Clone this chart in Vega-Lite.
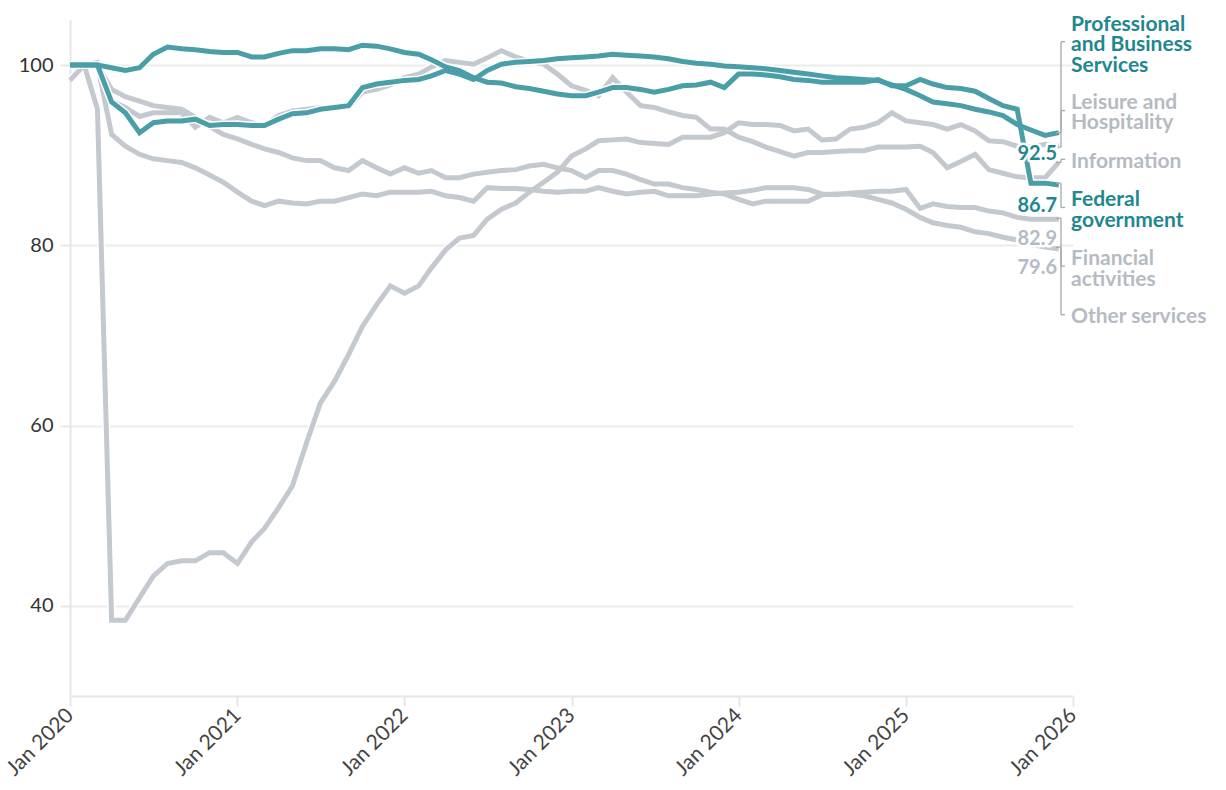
{
  "$schema": "https://vega.github.io/schema/vega-lite/v6.json",
  "width": 1003,
  "height": 676,
  "autosize": {"type": "none"},
  "padding": {"left": 70, "top": 20, "right": 153, "bottom": 94},
  "config": {"view": {"stroke": null}, "font": "Lato"},
  "datasets": {
    "series": [
      {"date": "2020-01-01", "Professional and Business Services": 100, "Federal government": 100, "Leisure and Hospitality": 100, "Information": 98.3, "Financial activities": 100, "Other services": 100},
      {"date": "2020-02-01", "Professional and Business Services": 100, "Federal government": 100, "Leisure and Hospitality": 100, "Information": 100, "Financial activities": 100, "Other services": 100},
      {"date": "2020-03-01", "Professional and Business Services": 100, "Federal government": 100, "Leisure and Hospitality": 95.1, "Information": 100.3, "Financial activities": 100, "Other services": 100},
      {"date": "2020-04-01", "Professional and Business Services": 95.9, "Federal government": 99.7, "Leisure and Hospitality": 38.4, "Information": 96.0, "Financial activities": 92.3, "Other services": 97.3},
      {"date": "2020-05-01", "Professional and Business Services": 94.7, "Federal government": 99.4, "Leisure and Hospitality": 38.4, "Information": 95.3, "Financial activities": 91.0, "Other services": 96.5},
      {"date": "2020-06-01", "Professional and Business Services": 92.5, "Federal government": 99.7, "Leisure and Hospitality": 40.9, "Information": 94.3, "Financial activities": 90.1, "Other services": 96.0},
      {"date": "2020-07-01", "Professional and Business Services": 93.6, "Federal government": 101.2, "Leisure and Hospitality": 43.3, "Information": 94.7, "Financial activities": 89.6, "Other services": 95.5},
      {"date": "2020-08-01", "Professional and Business Services": 93.8, "Federal government": 102.0, "Leisure and Hospitality": 44.7, "Information": 94.7, "Financial activities": 89.4, "Other services": 95.3},
      {"date": "2020-09-01", "Professional and Business Services": 93.8, "Federal government": 101.8, "Leisure and Hospitality": 45.0, "Information": 94.7, "Financial activities": 89.2, "Other services": 95.1},
      {"date": "2020-10-01", "Professional and Business Services": 94.0, "Federal government": 101.7, "Leisure and Hospitality": 45.0, "Information": 93.1, "Financial activities": 88.6, "Other services": 94.2},
      {"date": "2020-11-01", "Professional and Business Services": 93.3, "Federal government": 101.5, "Leisure and Hospitality": 45.9, "Information": 94.2, "Financial activities": 87.8, "Other services": 93.2},
      {"date": "2020-12-01", "Professional and Business Services": 93.4, "Federal government": 101.4, "Leisure and Hospitality": 45.9, "Information": 93.6, "Financial activities": 87.0, "Other services": 92.3},
      {"date": "2021-01-01", "Professional and Business Services": 93.4, "Federal government": 101.4, "Leisure and Hospitality": 44.7, "Information": 94.2, "Financial activities": 85.9, "Other services": 91.8},
      {"date": "2021-02-01", "Professional and Business Services": 93.3, "Federal government": 100.9, "Leisure and Hospitality": 47.1, "Information": 93.6, "Financial activities": 84.9, "Other services": 91.2},
      {"date": "2021-03-01", "Professional and Business Services": 93.3, "Federal government": 100.9, "Leisure and Hospitality": 48.6, "Information": 93.3, "Financial activities": 84.4, "Other services": 90.7},
      {"date": "2021-04-01", "Professional and Business Services": 94.0, "Federal government": 101.3, "Leisure and Hospitality": 50.9, "Information": 94.4, "Financial activities": 84.9, "Other services": 90.3},
      {"date": "2021-05-01", "Professional and Business Services": 94.6, "Federal government": 101.6, "Leisure and Hospitality": 53.3, "Information": 94.9, "Financial activities": 84.7, "Other services": 89.7},
      {"date": "2021-06-01", "Professional and Business Services": 94.7, "Federal government": 101.6, "Leisure and Hospitality": 58.1, "Information": 95.1, "Financial activities": 84.6, "Other services": 89.4},
      {"date": "2021-07-01", "Professional and Business Services": 95.1, "Federal government": 101.8, "Leisure and Hospitality": 62.5, "Information": 95.3, "Financial activities": 84.9, "Other services": 89.4},
      {"date": "2021-08-01", "Professional and Business Services": 95.3, "Federal government": 101.8, "Leisure and Hospitality": 64.9, "Information": 95.3, "Financial activities": 84.9, "Other services": 88.6},
      {"date": "2021-09-01", "Professional and Business Services": 95.5, "Federal government": 101.7, "Leisure and Hospitality": 67.9, "Information": 95.3, "Financial activities": 85.3, "Other services": 88.3},
      {"date": "2021-10-01", "Professional and Business Services": 97.5, "Federal government": 102.2, "Leisure and Hospitality": 71.0, "Information": 97.0, "Financial activities": 85.7, "Other services": 89.4},
      {"date": "2021-11-01", "Professional and Business Services": 97.9, "Federal government": 102.1, "Leisure and Hospitality": 73.4, "Information": 97.3, "Financial activities": 85.5, "Other services": 88.6},
      {"date": "2021-12-01", "Professional and Business Services": 98.1, "Federal government": 101.8, "Leisure and Hospitality": 75.5, "Information": 97.8, "Financial activities": 85.9, "Other services": 87.9},
      {"date": "2022-01-01", "Professional and Business Services": 98.3, "Federal government": 101.4, "Leisure and Hospitality": 74.7, "Information": 98.6, "Financial activities": 85.9, "Other services": 88.6},
      {"date": "2022-02-01", "Professional and Business Services": 98.4, "Federal government": 101.2, "Leisure and Hospitality": 75.5, "Information": 99.0, "Financial activities": 85.9, "Other services": 88.0},
      {"date": "2022-03-01", "Professional and Business Services": 98.8, "Federal government": 100.6, "Leisure and Hospitality": 77.5, "Information": 99.8, "Financial activities": 86.0, "Other services": 88.3},
      {"date": "2022-04-01", "Professional and Business Services": 99.4, "Federal government": 99.8, "Leisure and Hospitality": 79.5, "Information": 100.5, "Financial activities": 85.5, "Other services": 87.5},
      {"date": "2022-05-01", "Professional and Business Services": 99.0, "Federal government": 99.4, "Leisure and Hospitality": 80.8, "Information": 100.3, "Financial activities": 85.3, "Other services": 87.5},
      {"date": "2022-06-01", "Professional and Business Services": 98.4, "Federal government": 98.6, "Leisure and Hospitality": 81.1, "Information": 100.1, "Financial activities": 84.9, "Other services": 87.9},
      {"date": "2022-07-01", "Professional and Business Services": 99.4, "Federal government": 98.1, "Leisure and Hospitality": 82.9, "Information": 100.8, "Financial activities": 86.4, "Other services": 88.1},
      {"date": "2022-08-01", "Professional and Business Services": 100.1, "Federal government": 98.0, "Leisure and Hospitality": 84.0, "Information": 101.6, "Financial activities": 86.3, "Other services": 88.3},
      {"date": "2022-09-01", "Professional and Business Services": 100.3, "Federal government": 97.6, "Leisure and Hospitality": 84.7, "Information": 100.9, "Financial activities": 86.3, "Other services": 88.4},
      {"date": "2022-10-01", "Professional and Business Services": 100.4, "Federal government": 97.4, "Leisure and Hospitality": 85.9, "Information": 100.4, "Financial activities": 86.2, "Other services": 88.8},
      {"date": "2022-11-01", "Professional and Business Services": 100.5, "Federal government": 97.1, "Leisure and Hospitality": 87.0, "Information": 100.1, "Financial activities": 86.0, "Other services": 89.0},
      {"date": "2022-12-01", "Professional and Business Services": 100.7, "Federal government": 96.8, "Leisure and Hospitality": 88.1, "Information": 99.0, "Financial activities": 85.9, "Other services": 88.6},
      {"date": "2023-01-01", "Professional and Business Services": 100.8, "Federal government": 96.6, "Leisure and Hospitality": 89.9, "Information": 97.7, "Financial activities": 86.0, "Other services": 88.3},
      {"date": "2023-02-01", "Professional and Business Services": 100.9, "Federal government": 96.6, "Leisure and Hospitality": 90.7, "Information": 97.2, "Financial activities": 86.0, "Other services": 87.5},
      {"date": "2023-03-01", "Professional and Business Services": 101.0, "Federal government": 97.0, "Leisure and Hospitality": 91.6, "Information": 96.6, "Financial activities": 86.4, "Other services": 88.3},
      {"date": "2023-04-01", "Professional and Business Services": 101.2, "Federal government": 97.5, "Leisure and Hospitality": 91.7, "Information": 98.6, "Financial activities": 86.0, "Other services": 88.3},
      {"date": "2023-05-01", "Professional and Business Services": 101.1, "Federal government": 97.5, "Leisure and Hospitality": 91.8, "Information": 97.0, "Financial activities": 85.7, "Other services": 87.9},
      {"date": "2023-06-01", "Professional and Business Services": 101.0, "Federal government": 97.3, "Leisure and Hospitality": 91.4, "Information": 95.5, "Financial activities": 85.9, "Other services": 87.3},
      {"date": "2023-07-01", "Professional and Business Services": 100.9, "Federal government": 97.0, "Leisure and Hospitality": 91.3, "Information": 95.3, "Financial activities": 86.0, "Other services": 86.8},
      {"date": "2023-08-01", "Professional and Business Services": 100.7, "Federal government": 97.3, "Leisure and Hospitality": 91.2, "Information": 94.8, "Financial activities": 85.5, "Other services": 86.8},
      {"date": "2023-09-01", "Professional and Business Services": 100.4, "Federal government": 97.7, "Leisure and Hospitality": 92.0, "Information": 94.4, "Financial activities": 85.5, "Other services": 86.4},
      {"date": "2023-10-01", "Professional and Business Services": 100.2, "Federal government": 97.8, "Leisure and Hospitality": 92.0, "Information": 94.2, "Financial activities": 85.5, "Other services": 86.2},
      {"date": "2023-11-01", "Professional and Business Services": 100.1, "Federal government": 98.1, "Leisure and Hospitality": 92.0, "Information": 92.9, "Financial activities": 85.7, "Other services": 85.9},
      {"date": "2023-12-01", "Professional and Business Services": 99.9, "Federal government": 97.5, "Leisure and Hospitality": 92.5, "Information": 92.9, "Financial activities": 85.8, "Other services": 85.7},
      {"date": "2024-01-01", "Professional and Business Services": 99.8, "Federal government": 99.0, "Leisure and Hospitality": 93.6, "Information": 92.0, "Financial activities": 85.9, "Other services": 85.1},
      {"date": "2024-02-01", "Professional and Business Services": 99.7, "Federal government": 99.0, "Leisure and Hospitality": 93.4, "Information": 91.5, "Financial activities": 86.1, "Other services": 84.6},
      {"date": "2024-03-01", "Professional and Business Services": 99.6, "Federal government": 98.9, "Leisure and Hospitality": 93.4, "Information": 90.9, "Financial activities": 86.4, "Other services": 84.9},
      {"date": "2024-04-01", "Professional and Business Services": 99.4, "Federal government": 98.7, "Leisure and Hospitality": 93.3, "Information": 90.4, "Financial activities": 86.4, "Other services": 84.9},
      {"date": "2024-05-01", "Professional and Business Services": 99.2, "Federal government": 98.4, "Leisure and Hospitality": 92.7, "Information": 89.9, "Financial activities": 86.4, "Other services": 84.9},
      {"date": "2024-06-01", "Professional and Business Services": 99.0, "Federal government": 98.3, "Leisure and Hospitality": 92.9, "Information": 90.3, "Financial activities": 86.2, "Other services": 84.9},
      {"date": "2024-07-01", "Professional and Business Services": 98.8, "Federal government": 98.1, "Leisure and Hospitality": 91.7, "Information": 90.3, "Financial activities": 85.7, "Other services": 85.6},
      {"date": "2024-08-01", "Professional and Business Services": 98.6, "Federal government": 98.1, "Leisure and Hospitality": 91.8, "Information": 90.4, "Financial activities": 85.6, "Other services": 85.7},
      {"date": "2024-09-01", "Professional and Business Services": 98.5, "Federal government": 98.1, "Leisure and Hospitality": 92.9, "Information": 90.5, "Financial activities": 85.8, "Other services": 85.7},
      {"date": "2024-10-01", "Professional and Business Services": 98.4, "Federal government": 98.1, "Leisure and Hospitality": 93.1, "Information": 90.5, "Financial activities": 85.9, "Other services": 85.5},
      {"date": "2024-11-01", "Professional and Business Services": 98.3, "Federal government": 98.4, "Leisure and Hospitality": 93.6, "Information": 90.9, "Financial activities": 86.0, "Other services": 85.1},
      {"date": "2024-12-01", "Professional and Business Services": 97.8, "Federal government": 97.7, "Leisure and Hospitality": 94.7, "Information": 90.9, "Financial activities": 86.0, "Other services": 84.7},
      {"date": "2025-01-01", "Professional and Business Services": 97.3, "Federal government": 97.7, "Leisure and Hospitality": 93.8, "Information": 90.9, "Financial activities": 86.2, "Other services": 84.0},
      {"date": "2025-02-01", "Professional and Business Services": 96.6, "Federal government": 98.4, "Leisure and Hospitality": 93.6, "Information": 91.0, "Financial activities": 84.1, "Other services": 83.1},
      {"date": "2025-03-01", "Professional and Business Services": 95.9, "Federal government": 97.9, "Leisure and Hospitality": 93.4, "Information": 90.3, "Financial activities": 84.6, "Other services": 82.5},
      {"date": "2025-04-01", "Professional and Business Services": 95.7, "Federal government": 97.5, "Leisure and Hospitality": 92.9, "Information": 88.6, "Financial activities": 84.3, "Other services": 82.2},
      {"date": "2025-05-01", "Professional and Business Services": 95.5, "Federal government": 97.4, "Leisure and Hospitality": 93.4, "Information": 89.3, "Financial activities": 84.2, "Other services": 82.0},
      {"date": "2025-06-01", "Professional and Business Services": 95.1, "Federal government": 97.1, "Leisure and Hospitality": 92.7, "Information": 90.1, "Financial activities": 84.2, "Other services": 81.5},
      {"date": "2025-07-01", "Professional and Business Services": 94.8, "Federal government": 96.3, "Leisure and Hospitality": 91.6, "Information": 88.4, "Financial activities": 83.8, "Other services": 81.3},
      {"date": "2025-08-01", "Professional and Business Services": 94.4, "Federal government": 95.5, "Leisure and Hospitality": 91.5, "Information": 88.0, "Financial activities": 83.6, "Other services": 80.9},
      {"date": "2025-09-01", "Professional and Business Services": 93.4, "Federal government": 95.1, "Leisure and Hospitality": 91.0, "Information": 87.6, "Financial activities": 83.1, "Other services": 80.6},
      {"date": "2025-10-01", "Professional and Business Services": 92.8, "Federal government": 86.9, "Leisure and Hospitality": 90.9, "Information": 87.5, "Financial activities": 82.9, "Other services": 80.1},
      {"date": "2025-11-01", "Professional and Business Services": 92.2, "Federal government": 86.9, "Leisure and Hospitality": 91.2, "Information": 87.5, "Financial activities": 82.9, "Other services": 79.8},
      {"date": "2025-12-01", "Professional and Business Services": 92.5, "Federal government": 86.7, "Leisure and Hospitality": 91.0, "Information": 89.2, "Financial activities": 82.9, "Other services": 79.6}
    ],
    "ann": [
      {"series": "Professional and Business Services", "group": "highlighted", "label": ["Professional", "and Business", "Services"], "labelAt": 104.45, "bracketAt": 102.6, "end": 92.5, "endLabel": "92.5", "endLabelAt": 90.15},
      {"series": "Leisure and Hospitality", "group": "other", "label": ["Leisure and", "Hospitality"], "labelAt": 95.8, "bracketAt": 94.95, "end": 90.9, "endLabel": null, "endLabelAt": null},
      {"series": "Information", "group": "other", "label": ["Information"], "labelAt": 89.2, "bracketAt": 89.55, "end": 89.2, "endLabel": null, "endLabelAt": null},
      {"series": "Federal government", "group": "highlighted", "label": ["Federal", "government"], "labelAt": 85.0, "bracketAt": 84.2, "end": 86.9, "endLabel": "86.7", "endLabelAt": 84.4},
      {"series": "Financial activities", "group": "other", "label": ["Financial", "activities"], "labelAt": 78.45, "bracketAt": 77.7, "end": 83.0, "endLabel": "82.9", "endLabelAt": 80.75},
      {"series": "Other services", "group": "other", "label": ["Other services"], "labelAt": 72.05, "bracketAt": 72.3, "end": 79.8, "endLabel": "79.6", "endLabelAt": 77.45}
    ]
  },
  "layer": [
    {
      "data": {"name": "series"},
      "transform": [
        {"fold": ["Leisure and Hospitality", "Information", "Financial activities", "Other services"], "as": ["key", "v"]}
      ],
      "mark": {"type": "line", "color": "white", "strokeWidth": 8},
      "encoding": {
        "x": {
          "field": "date", "type": "temporal",
          "scale": {"domain": [{"year": 2020, "month": 1, "date": 1}, {"year": 2026, "month": 1, "date": 1}]},
          "axis": {
            "title": null, "grid": false, "format": "%b %Y",
            "values": [{"year": 2020, "month": 1, "date": 1}, {"year": 2021, "month": 1, "date": 1}, {"year": 2022, "month": 1, "date": 1}, {"year": 2023, "month": 1, "date": 1}, {"year": 2024, "month": 1, "date": 1}, {"year": 2025, "month": 1, "date": 1}, {"year": 2026, "month": 1, "date": 1}],
            "labelAngle": -45, "labelAlign": "right", "labelBaseline": "middle", "labelPadding": 6,
            "labelFontSize": 21, "labelColor": "#444444", "labelFont": "Lato",
            "tickColor": "#e6e6e6", "tickSize": 10, "tickWidth": 2,
            "domainColor": "#e6e6e6", "domainWidth": 2
          }
        },
        "y": {
          "field": "v", "type": "quantitative",
          "scale": {"domain": [30, 105], "nice": false, "zero": false},
          "axis": {
            "title": null, "values": [40, 60, 80, 100],
            "labelFontSize": 20, "labelColor": "#333333", "labelFont": "Lato", "labelPadding": 7,
            "tickColor": "#e6e6e6", "tickSize": 10, "tickWidth": 2,
            "domainColor": "#e6e6e6", "domainWidth": 2,
            "grid": true, "gridColor": "#ececec", "gridWidth": 2
          }
        },
        "detail": {"field": "key"}
      }
    },
    {
      "data": {"name": "series"},
      "transform": [
        {"fold": ["Leisure and Hospitality", "Information", "Financial activities", "Other services"], "as": ["key", "v"]}
      ],
      "mark": {"type": "line", "color": "#c4c9cf", "strokeWidth": 5},
      "encoding": {
        "x": {"field": "date", "type": "temporal"},
        "y": {"field": "v", "type": "quantitative"},
        "detail": {"field": "key"}
      }
    },
    {
      "data": {"name": "series"},
      "transform": [
        {"fold": ["Federal government", "Professional and Business Services"], "as": ["key", "v"]}
      ],
      "mark": {"type": "line", "color": "white", "strokeWidth": 8},
      "encoding": {
        "x": {"field": "date", "type": "temporal"},
        "y": {"field": "v", "type": "quantitative"},
        "detail": {"field": "key"}
      }
    },
    {
      "data": {"name": "series"},
      "transform": [
        {"fold": ["Federal government", "Professional and Business Services"], "as": ["key", "v"]}
      ],
      "mark": {"type": "line", "color": "#4a9ea8", "strokeWidth": 5},
      "encoding": {
        "x": {"field": "date", "type": "temporal"},
        "y": {"field": "v", "type": "quantitative"},
        "detail": {"field": "key"}
      }
    },
    {
      "mark": {"type": "rule", "color": "#e3303a", "strokeWidth": 3, "strokeDash": [3, 3]},
      "encoding": {
        "x": {"datum": {"year": 2020, "month": 1, "date": 1}, "type": "temporal"},
        "x2": {"datum": {"year": 2025, "month": 12, "date": 25}},
        "y": {"datum": 100, "type": "quantitative"}
      }
    },
    {
      "data": {"name": "ann"},
      "mark": {"type": "rule", "color": "#a8a8a8", "strokeWidth": 1.3, "xOffset": -12},
      "encoding": {
        "x": {"datum": {"year": 2026, "month": 1, "date": 1}, "type": "temporal"},
        "y": {"field": "end", "type": "quantitative"},
        "y2": {"field": "bracketAt"}
      }
    },
    {
      "data": {"name": "ann"},
      "mark": {"type": "rule", "color": "#a8a8a8", "strokeWidth": 1.3, "xOffset": -17, "x2Offset": -12},
      "encoding": {
        "x": {"datum": {"year": 2026, "month": 1, "date": 1}, "type": "temporal"},
        "x2": {"datum": {"year": 2026, "month": 1, "date": 1}},
        "y": {"field": "end", "type": "quantitative"}
      }
    },
    {
      "data": {"name": "ann"},
      "mark": {"type": "rule", "color": "#a8a8a8", "strokeWidth": 1.3, "xOffset": -12, "x2Offset": -8},
      "encoding": {
        "x": {"datum": {"year": 2026, "month": 1, "date": 1}, "type": "temporal"},
        "x2": {"datum": {"year": 2026, "month": 1, "date": 1}},
        "y": {"field": "bracketAt", "type": "quantitative"}
      }
    },
    {
      "data": {"name": "ann"},
      "transform": [{"filter": "datum.endLabel != null"}],
      "mark": {"type": "text", "align": "right", "baseline": "middle", "dx": -16, "fontSize": 20, "fontWeight": "bold", "font": "Lato", "stroke": "white", "strokeWidth": 5, "strokeJoin": "round", "fill": "white"},
      "encoding": {
        "x": {"datum": {"year": 2026, "month": 1, "date": 1}, "type": "temporal"},
        "y": {"field": "endLabelAt", "type": "quantitative"},
        "text": {"field": "endLabel"}
      }
    },
    {
      "data": {"name": "ann"},
      "transform": [{"filter": "datum.endLabel != null"}],
      "mark": {"type": "text", "align": "right", "baseline": "middle", "dx": -16, "fontSize": 20, "fontWeight": "bold", "font": "Lato"},
      "encoding": {
        "x": {"datum": {"year": 2026, "month": 1, "date": 1}, "type": "temporal"},
        "y": {"field": "endLabelAt", "type": "quantitative"},
        "text": {"field": "endLabel"},
        "color": {"field": "group", "type": "nominal", "scale": {"domain": ["highlighted", "other"], "range": ["#1f878f", "#b5bbc2"]}, "legend": null}
      }
    },
    {
      "data": {"name": "ann"},
      "mark": {"type": "text", "align": "left", "baseline": "middle", "dx": -2, "fontSize": 21, "fontWeight": "bold", "font": "Lato", "lineHeight": 20.5},
      "encoding": {
        "x": {"datum": {"year": 2026, "month": 1, "date": 1}, "type": "temporal"},
        "y": {"field": "labelAt", "type": "quantitative"},
        "text": {"field": "label"},
        "color": {"field": "group", "type": "nominal", "scale": {"domain": ["highlighted", "other"], "range": ["#1f878f", "#b5bbc2"]}, "legend": null}
      }
    }
  ]
}
